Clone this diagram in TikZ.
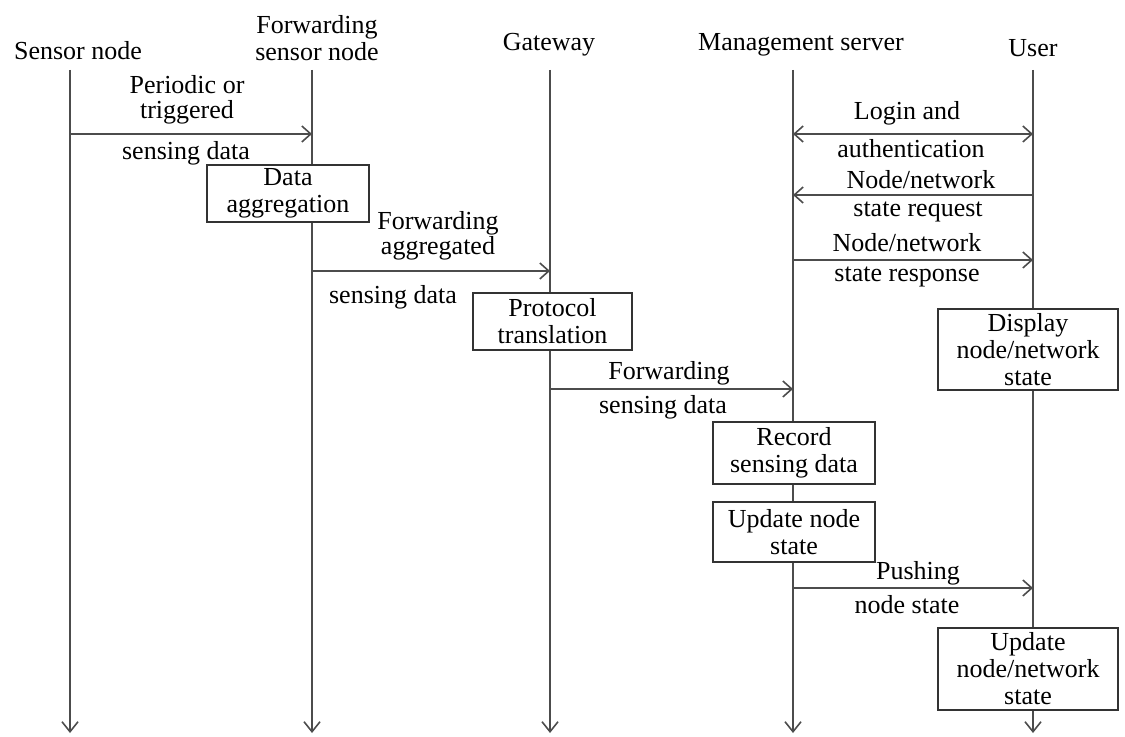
\documentclass[tikz,border=0pt]{standalone}
\usepackage{fontspec}
\setmainfont{Liberation Serif}
\usetikzlibrary{arrows.meta}
\begin{document}
\begin{tikzpicture}[x=0.5pt,y=-0.5pt,
  every node/.style={font=\fontsize{13}{13.5}\selectfont, inner sep=0pt, align=center, text=black},
  life/.style={draw=black!70, line width=0.8pt, -{Straight Barb[length=5pt,width=8pt]}},
  msg/.style={draw=black!70, line width=0.8pt, -{Straight Barb[length=4.5pt,width=8pt]}},
  dmsg/.style={draw=black!70, line width=0.8pt, {Straight Barb[length=4.5pt,width=8pt]}-{Straight Barb[length=4.5pt,width=8pt]}},
  stepbox/.style={draw=black!80, line width=0.8pt, fill=white, inner sep=0pt},
  pair/.style={font=\fontsize{13}{12.5}\selectfont}
]
\useasboundingbox (0,0) rectangle (1125,737);

% participants
\node (hs) at (78,51)  {Sensor node};
\node (hf) at (317,38) {Forwarding\\sensor node};
\node (hg) at (549,45) {Gateway};
\node (hm) at (801,45) {Management server};
\node (hu) at (1033,48) {User};

% lifelines
\coordinate (ls0) at (70,70);   \coordinate (ls1) at (70,733);
\coordinate (lf0) at (312,70);  \coordinate (lf1) at (312,733);
\coordinate (lg0) at (550,70);  \coordinate (lg1) at (550,733);
\coordinate (lm0) at (793,70);  \coordinate (lm1) at (793,733);
\coordinate (lu0) at (1033,70); \coordinate (lu1) at (1033,733);
\draw[life] (ls0) -- (ls1);
\draw[life] (lf0) -- (lf1);
\draw[life] (lg0) -- (lg1);
\draw[life] (lm0) -- (lm1);
\draw[life] (lu0) -- (lu1);

% message end points
\coordinate (a1) at (70,134);   \coordinate (b1) at (312,134);
\coordinate (a2) at (312,271);  \coordinate (b2) at (550,271);
\coordinate (a3) at (550,389);  \coordinate (b3) at (793,389);
\coordinate (a4) at (793,134);  \coordinate (b4) at (1033,134);
\coordinate (a5) at (793,195);  \coordinate (b5) at (1033,195);
\coordinate (a6) at (793,260);  \coordinate (b6) at (1033,260);
\coordinate (a7) at (793,588);  \coordinate (b7) at (1033,588);

% messages
\draw[msg] (a1) -- (b1);
\node[pair] (t1) at (187,99.5) {Periodic or\\triggered};
\node (u1) at (186,153) {sensing data};

\draw[msg] (a2) -- (b2);
\node[pair] (t2) at (438,236) {Forwarding\\aggregated};
\node (u2) at (393,297) {sensing data};

\draw[msg] (a3) -- (b3);
\node (t3) at (669,373) {Forwarding};
\node (u3) at (663,407) {sensing data};

\draw[dmsg] (a4) -- (b4);
\node (t4) at (907,113) {Login and};
\node (u4) at (911,149) {authentication};

\draw[msg] (b5) -- (a5);
\node (t5) at (921,180) {Node/network};
\node (u5) at (918,212) {state request};

\draw[msg] (a6) -- (b6);
\node (t6) at (907,243) {Node/network};
\node (u6) at (907,277) {state response};

\draw[msg] (a7) -- (b7);
\node (t7) at (918,573) {Pushing};
\node (u7) at (907,605) {node state};

% processing steps
\node[stepbox, minimum width=81pt, minimum height=28.5pt] (agg) at (288,193.5) {Data\\aggregation};
\node[stepbox, minimum width=79.5pt, minimum height=28.5pt] (ptr) at (552.5,321.5) {Protocol\\translation};
\node[stepbox, minimum width=90pt, minimum height=40.5pt] (dsp) at (1028,349.5) {Display\\node/network\\state};
\node[stepbox, minimum width=81pt, minimum height=31pt] (rec) at (794,453) {Record\\sensing data};
\node[stepbox, minimum width=81pt, minimum height=30pt] (upd) at (794,532) {Update node\\state};
\node[stepbox, minimum width=90pt, minimum height=41pt] (upn) at (1028,669) {Update\\node/network\\state};
\end{tikzpicture}
\end{document}
